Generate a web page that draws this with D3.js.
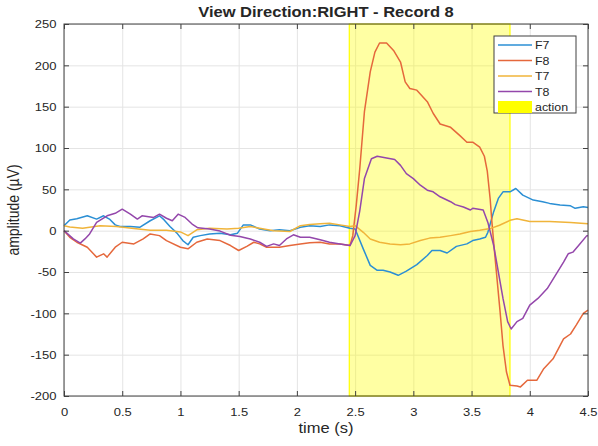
<!DOCTYPE html>
<html>
<head>
<meta charset="utf-8">
<script src="https://cdn.jsdelivr.net/npm/d3@7"></script>
<style>
  html, body { margin: 0; padding: 0; background: #fff; }
  svg { display: block; font-family: "Liberation Sans", Arial, Helvetica, sans-serif; }
</style>
</head>
<body>
<svg id="chart" width="598" height="446"></svg>
<script>
// values, [time (s), amplitude (µV)]
const f7 = [[0,6],[0.05,13],[0.11,14.5],[0.2,18],[0.28,14],[0.34,18],[0.39,14],[0.44,7],[0.48,5],[0.57,5],[0.65,4],
  [0.74,12],[0.82,18],[0.86,13],[0.91,5],[0.97,-3],[1.02,-12],[1.065,-17],[1.11,-8],[1.17,-6],[1.25,-4],[1.34,-3],
  [1.43,-5],[1.49,-3],[1.54,7],[1.6,7],[1.68,2],[1.77,0],[1.85,1],[1.94,0],[2.03,4],[2.11,6],[2.2,5],[2.28,7],
  [2.37,6],[2.456,3],[2.5,2],[2.57,-22],[2.63,-42],[2.69,-48],[2.74,-48],[2.8,-50],[2.87,-54],[2.94,-49],[3.03,-41],
  [3.12,-30],[3.16,-24],[3.23,-24],[3.29,-27],[3.37,-19],[3.46,-16],[3.51,-12],[3.57,-10],[3.62,-8],[3.64,-2],
  [3.69,23],[3.73,39],[3.77,47],[3.83,47],[3.88,51],[3.94,43],[4.03,37],[4.11,35],[4.17,33],[4.26,31],[4.35,30],
  [4.39,27],[4.46,29],[4.5,28]];
const f8 = [[0,0],[0.05,-8],[0.11,-14],[0.2,-20],[0.28,-32],[0.34,-28],[0.37,-32],[0.44,-20],[0.5,-14],[0.6,-16],
  [0.68,-10],[0.74,-4],[0.82,-6],[0.88,-12],[1.0,-20],[1.065,-22],[1.14,-14],[1.23,-10],[1.34,-12],[1.43,-18],
  [1.5,-24],[1.57,-19],[1.63,-14],[1.68,-16],[1.74,-20],[1.85,-20],[1.94,-18],[2.03,-16],[2.11,-14.5],[2.2,-14],
  [2.28,-16],[2.37,-16],[2.456,-18],[2.48,-6],[2.51,31],[2.54,75],[2.58,144],[2.63,192],[2.67,216],[2.71,227],
  [2.77,227],[2.83,218],[2.89,204],[2.93,180],[2.97,172],[3.03,170],[3.12,156],[3.17,142],[3.23,129],[3.32,125],
  [3.4,115],[3.46,107],[3.51,107],[3.57,101],[3.61,90],[3.635,72],[3.66,38],[3.675,10],[3.7,-30],[3.745,-98],
  [3.77,-139],[3.8,-171],[3.83,-187],[3.89,-188],[3.92,-189],[3.98,-181],[4.06,-181],[4.12,-167],[4.2,-155],
  [4.29,-131],[4.35,-125],[4.4,-114],[4.46,-100],[4.5,-96]];
const t7 = [[0,6],[0.05,4.5],[0.16,3],[0.31,6],[0.45,5],[0.6,2.5],[0.74,0.5],[0.88,0.5],[1.0,-1.5],[1.065,-6],
  [1.14,1],[1.25,3],[1.4,2],[1.5,3],[1.6,5],[1.68,3],[1.8,0],[1.94,-1],[2.03,6],[2.11,7.5],[2.2,8.5],[2.28,9],
  [2.37,7],[2.456,5],[2.5,6],[2.57,-2],[2.63,-10],[2.71,-14],[2.8,-16],[2.89,-17],[2.97,-16],[3.06,-12],[3.14,-9],
  [3.23,-8],[3.32,-6],[3.4,-4],[3.49,-1],[3.57,0.5],[3.66,2.5],[3.74,6.5],[3.83,12.5],[3.89,14.5],[4.0,11],
  [4.17,11],[4.35,10],[4.5,8.5]];
const t8 = [[0,0],[0.08,-10],[0.14,-15],[0.18,-10],[0.22,-4],[0.28,10],[0.37,18],[0.44,21],[0.5,26],[0.57,20],
  [0.63,14],[0.67,18],[0.77,16],[0.82,20],[0.88,15],[0.93,12],[0.98,20],[1.04,16],[1.1,8],[1.15,3.5],[1.25,2],
  [1.34,-0.5],[1.43,-5.5],[1.51,-7],[1.6,-10],[1.68,-14],[1.74,-19],[1.8,-16],[1.85,-18],[1.91,-10],[1.97,-5],
  [2.03,-8],[2.11,-8],[2.2,-11],[2.28,-14],[2.37,-16],[2.456,-18],[2.5,-6],[2.54,24],[2.58,63],[2.64,87],[2.69,90],
  [2.77,88],[2.84,86],[2.89,79],[2.94,69],[3.0,63],[3.06,55],[3.12,49],[3.17,47],[3.23,41],[3.32,35],[3.36,31.5],
  [3.43,28.6],[3.49,25],[3.51,27],[3.6,25],[3.64,10],[3.69,-18],[3.73,-50],[3.77,-82],[3.81,-110],[3.84,-119],
  [3.89,-110],[3.94,-106],[4.0,-90],[4.07,-82],[4.15,-70],[4.22,-54],[4.29,-38],[4.33,-28],[4.37,-26],[4.43,-16],
  [4.49,-6],[4.5,-6]];

const seriesNames = ['F7', 'F8', 'T7', 'T8'];
const seriesData = [f7, f8, t7, t8];
const seriesColors = ['#2b8fd4', '#e5683c', '#f0b43a', '#9447ab'];
const actionSpan = [2.45, 3.83];
const xTicks = [0, 0.5, 1, 1.5, 2, 2.5, 3, 3.5, 4, 4.5];
const yTicks = [-200, -150, -100, -50, 0, 50, 100, 150, 200, 250];

const svg = d3.select('#chart');
const plotLeft = 64, plotRight = 588, plotTop = 24, plotBottom = 396;
const stretch = 1.18; // picture is a little wider than the fonts
const ink = '#262626';

const xScale = d3.scaleLinear().domain([0, 4.5]).range([plotLeft, plotRight]);
const yScale = d3.scaleLinear().domain([-200, 250]).range([plotBottom, plotTop]);

// grid
svg.append('g')
  .attr('transform', 'translate(0,' + plotBottom + ')')
  .call(d3.axisBottom(xScale).tickValues(xTicks).tickSize(-(plotBottom - plotTop)).tickFormat(''))
  .call(g => g.select('.domain').remove())
  .call(g => g.selectAll('line').attr('stroke', '#e4e4e4'));
svg.append('g')
  .attr('transform', 'translate(' + plotLeft + ',0)')
  .call(d3.axisLeft(yScale).tickValues(yTicks).tickSize(-(plotRight - plotLeft)).tickFormat(''))
  .call(g => g.select('.domain').remove())
  .call(g => g.selectAll('line').attr('stroke', '#e4e4e4'));

// action patch
svg.append('rect')
  .attr('x', xScale(actionSpan[0]))
  .attr('y', plotTop)
  .attr('width', xScale(actionSpan[1]) - xScale(actionSpan[0]))
  .attr('height', plotBottom - plotTop)
  .style('fill', '#ffff00')
  .style('fill-opacity', 0.36)
  .style('stroke', '#ffff00')
  .style('stroke-width', 1.2);

// lines
const line = d3.line()
  .x(d => xScale(d[0]))
  .y(d => yScale(d[1]));
seriesData.forEach(function(data, i) {
  svg.append('path')
    .datum(data)
    .attr('d', line)
    .style('fill', 'none')
    .style('stroke', seriesColors[i])
    .style('stroke-width', 1.5)
    .style('stroke-linejoin', 'round');
});

// axes with inward ticks on all sides
function tidy(g) {
  g.select('.domain').remove();
  g.selectAll('line').attr('stroke', '#404040');
}
let xAxis = svg.append('g')
  .attr('transform', 'translate(0,' + plotBottom + ')')
  .call(d3.axisBottom(xScale).tickValues(xTicks).tickSize(-5).tickFormat(d => d))
  .call(tidy);
xAxis.selectAll('text')
  .attr('y', 20).attr('dy', null).attr('x', 0)
  .attr('transform', 'scale(' + stretch + ',1)')
  .style('font-size', '11px').style('fill', ink);
let yAxis = svg.append('g')
  .attr('transform', 'translate(' + plotLeft + ',0)')
  .call(d3.axisLeft(yScale).tickValues(yTicks).tickSize(-5).tickFormat(d => d))
  .call(tidy);
yAxis.selectAll('text')
  .attr('x', -7.5 / stretch).attr('dy', '0.36em')
  .attr('transform', 'scale(' + stretch + ',1)')
  .style('font-size', '11px').style('fill', ink);
svg.append('g')
  .attr('transform', 'translate(0,' + plotTop + ')')
  .call(d3.axisTop(xScale).tickValues(xTicks).tickSize(-5).tickFormat(''))
  .call(tidy);
svg.append('g')
  .attr('transform', 'translate(' + plotRight + ',0)')
  .call(d3.axisRight(yScale).tickValues(yTicks).tickSize(-5).tickFormat(''))
  .call(tidy);
svg.selectAll('g').attr('font-family', null);
svg.append('rect')
  .attr('x', plotLeft).attr('y', plotTop)
  .attr('width', plotRight - plotLeft).attr('height', plotBottom - plotTop)
  .style('fill', 'none').style('stroke', '#404040').style('stroke-width', 1);

// texts
svg.append('text')
  .attr('transform', 'translate(' + ((plotLeft + plotRight) / 2) + ',17.3) scale(' + stretch + ',1)')
  .style('text-anchor', 'middle')
  .style('font-size', '14px').style('font-weight', 'bold').style('fill', ink)
  .text('View Direction:RIGHT - Record 8');
svg.append('text')
  .attr('transform', 'translate(' + ((plotLeft + plotRight) / 2) + ',433) scale(' + stretch + ',1)')
  .style('text-anchor', 'middle')
  .style('font-size', '14px').style('fill', ink)
  .text('time (s)');
svg.append('text')
  .attr('transform', 'translate(19,' + ((plotTop + plotBottom) / 2) + ') scale(' + stretch + ',1) rotate(-90)')
  .style('text-anchor', 'middle')
  .style('font-size', '14px').style('fill', ink)
  .text('amplitude (µV)');

// legend
let legend = svg.append('g').attr('transform', 'translate(494,36)');
legend.append('rect')
  .attr('width', 82).attr('height', 77)
  .style('fill', '#fff').style('stroke', '#404040').style('stroke-width', 1);
seriesNames.forEach(function(name, i) {
  let yy = 9 + i * 15.5;
  legend.append('line')
    .attr('x1', 4).attr('x2', 38).attr('y1', yy).attr('y2', yy)
    .style('stroke', seriesColors[i]).style('stroke-width', 1.5);
  legend.append('text')
    .attr('transform', 'translate(41,' + (yy + 4) + ') scale(' + stretch + ',1)')
    .style('font-size', '10.5px').style('fill', ink)
    .text(name);
});
legend.append('rect')
  .attr('x', 4).attr('y', 65).attr('width', 34).attr('height', 12)
  .style('fill', '#ffff00');
legend.append('text')
  .attr('transform', 'translate(41,' + 75 + ') scale(' + stretch + ',1)')
  .style('font-size', '10.5px').style('fill', ink)
  .text('action');
</script>
</body>
</html>
